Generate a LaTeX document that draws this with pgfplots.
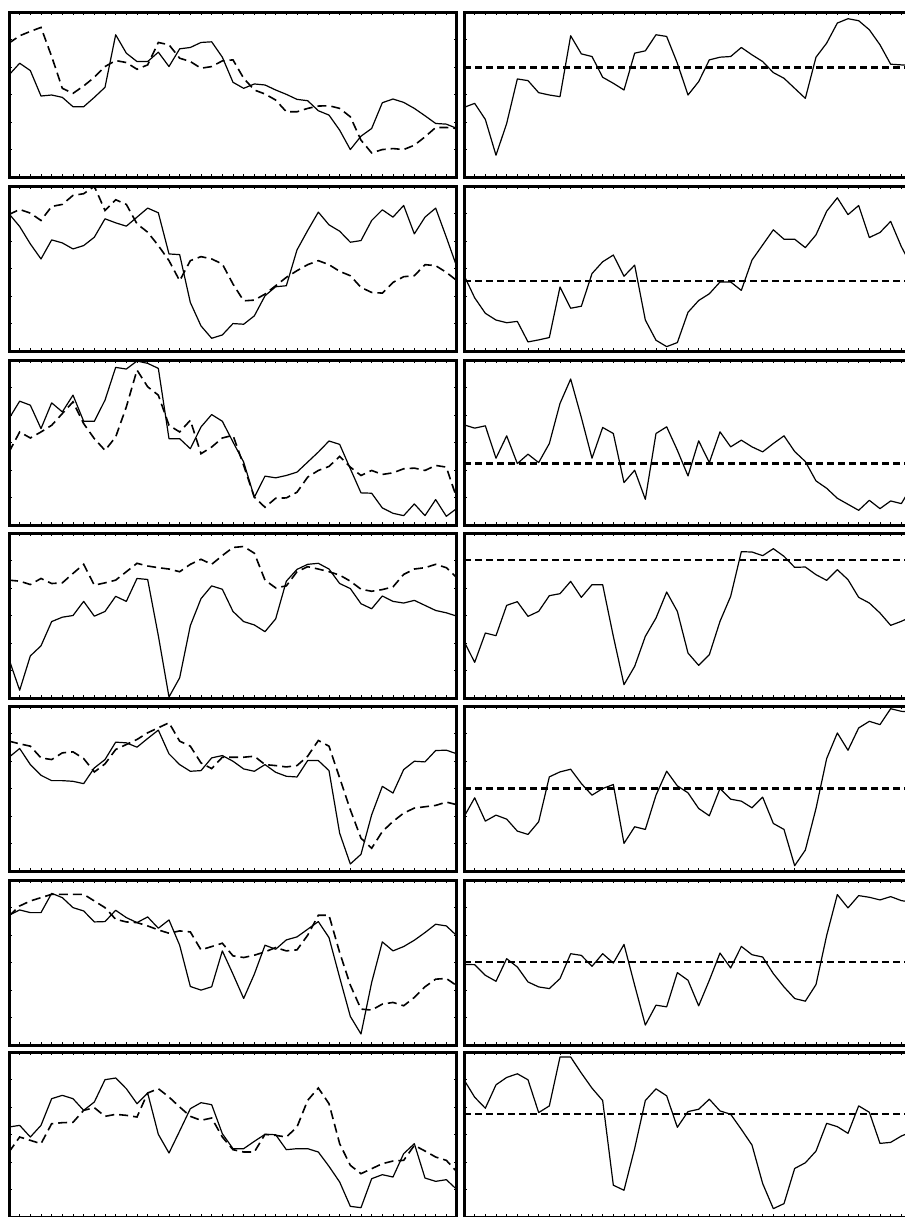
\documentclass[border=0pt]{standalone}
\usepackage{pgfplots}
\usepackage{pgfplotstable}
\pgfplotsset{compat=1.18}
\pgfplotsset{
  panel/.style={
    scale only axis, width=224pt, height=82.5pt,
    xmin=0, xmax=42, y dir=reverse,
    xtick={0,...,42}, xticklabels={}, ytick=\empty,
    tick align=inside, xtick pos=both, major tick length=1.5pt,
    tick style={line width=0.4pt, black},
    axis line style={line width=1.5pt},
    anchor=north west, clip=true,
    after end axis/.code={
      \foreach \k in {1,...,5}{
        \draw[line width=0.4pt] (rel axis cs:0,\k/6) -- ++(1.5pt,0);
        \draw[line width=0.4pt] (rel axis cs:1,\k/6) -- ++(-1.5pt,0);
      }
    },
  },
  solidl/.style={black, line width=0.6pt, line join=round},
  dashl/.style={black, line width=0.8pt, dash pattern=on 4.5pt off 2.5pt},
  hline/.style={black, line width=1.1pt, dash pattern=on 3.5pt off 2pt},
}
% ---------- data (one column per series, index = x) ----------
\pgfplotstableread[row sep=\\]{y\\225\\190\\212\\288\\285\\292\\320\\320\\292\\262\\105\\160\\185\\185\\157\\200\\147\\143\\128\\126\\172\\247\\265\\252\\255\\270\\283\\298\\302\\332\\345\\390\\448\\408\\385\\308\\297\\307\\325\\347\\370\\372\\385\\}\LAs
\pgfplotstableread[row sep=\\]{y\\130\\108\\95\\83\\170\\265\\280\\258\\232\\200\\182\\188\\208\\195\\128\\135\\175\\185\\205\\200\\183\\180\\235\\270\\282\\300\\335\\335\\325\\318\\317\\325\\350\\420\\458\\448\\445\\448\\435\\410\\382\\382\\385\\}\LAd
\pgfplotstableread[row sep=\\]{y\\322\\310\\358\\465\\370\\237\\242\\278\\285\\290\\108\\162\\170\\232\\250\\270\\160\\153\\105\\110\\190\\285\\245\\180\\172\\170\\143\\165\\185\\218\\235\\265\\295\\172\\130\\70\\57\\63\\90\\135\\193\\195\\197\\}\RAs
\pgfplotstableread[row sep=\\]{y\\110\\148\\200\\245\\188\\197\\215\\205\\180\\125\\137\\147\\120\\93\\107\\230\\232\\375\\445\\482\\472\\438\\440\\415\\355\\328\\325\\218\\160\\105\\143\\162\\195\\190\\130\\98\\120\\85\\170\\120\\93\\180\\270\\}\LBs
\pgfplotstableread[row sep=\\]{y\\112\\97\\108\\130\\88\\82\\55\\50\\28\\100\\68\\82\\140\\165\\205\\250\\310\\250\\238\\245\\260\\320\\370\\368\\350\\325\\300\\280\\262\\250\\262\\282\\295\\330\\345\\347\\315\\298\\295\\262\\265\\285\\310\\}\LBd
\pgfplotstableread[row sep=\\]{y\\295\\362\\408\\428\\436\\432\\493\\487\\480\\330\\393\\387\\290\\255\\235\\298\\265\\428\\488\\507\\495\\405\\370\\350\\315\\315\\340\\250\\205\\160\\188\\188\\213\\175\\105\\65\\115\\88\\183\\168\\135\\210\\270\\}\RBs
\pgfplotstableread[row sep=\\]{y\\200\\148\\160\\230\\153\\180\\130\\208\\208\\145\\47\\52\\28\\35\\50\\260\\260\\290\\225\\188\\208\\270\\330\\435\\372\\377\\370\\360\\330\\300\\267\\277\\350\\422\\423\\467\\483\\490\\455\\490\\442\\492\\468\\}\LCs
\pgfplotstableread[row sep=\\]{y\\300\\240\\258\\240\\220\\185\\150\\215\\260\\295\\255\\165\\55\\105\\130\\220\\240\\205\\305\\285\\258\\250\\340\\435\\465\\438\\437\\420\\375\\355\\343\\313\\345\\370\\355\\367\\362\\350\\348\\355\\340\\345\\440\\}\LCd
\pgfplotstableread[row sep=\\]{y\\212\\222\\215\\312\\245\\328\\300\\325\\268\\148\\75\\190\\312\\220\\238\\385\\348\\435\\238\\218\\288\\365\\260\\325\\233\\278\\258\\278\\293\\268\\245\\292\\322\\380\\402\\432\\450\\468\\438\\463\\440\\448\\395\\}\RCs
\pgfplotstableread[row sep=\\]{y\\400\\492\\390\\360\\288\\275\\270\\228\\272\\258\\213\\228\\160\\163\\330\\512\\455\\300\\220\\182\\192\\258\\288\\298\\318\\280\\168\\133\\118\\115\\132\\175\\190\\235\\250\\212\\228\\233\\225\\240\\255\\262\\272\\}\LDs
\pgfplotstableread[row sep=\\]{y\\165\\168\\178\\160\\175\\173\\145\\118\\180\\173\\165\\140\\115\\123\\128\\132\\140\\118\\103\\118\\92\\68\\65\\85\\165\\188\\182\\140\\125\\132\\140\\150\\168\\192\\198\\193\\185\\148\\132\\128\\118\\128\\158\\}\LDd
\pgfplotstableread[row sep=\\]{y\\345\\408\\320\\328\\237\\226\\270\\255\\208\\202\\165\\213\\175\\175\\330\\475\\420\\330\\275\\197\\255\\380\\417\\385\\285\\210\\76\\77\\88\\67\\90\\123\\122\\145\\162\\130\\160\\213\\230\\260\\297\\285\\270\\}\RDs
\pgfplotstableread[row sep=\\]{y\\178\\152\\200\\232\\248\\248\\250\\257\\210\\185\\133\\135\\148\\122\\97\\168\\200\\220\\218\\180\\173\\190\\213\\220\\200\\223\\235\\237\\188\\188\\218\\405\\497\\468\\350\\265\\285\\215\\190\\192\\158\\157\\168\\}\LEs
\pgfplotstableread[row sep=\\]{y\\130\\138\\145\\180\\185\\165\\162\\182\\222\\198\\155\\140\\125\\105\\90\\75\\130\\145\\195\\212\\178\\178\\178\\175\\200\\203\\207\\203\\175\\128\\145\\240\\335\\420\\450\\400\\370\\345\\330\\326\\322\\312\\320\\}\LEd
\pgfplotstableread[row sep=\\]{y\\355\\298\\368\\350\\362\\398\\408\\370\\235\\220\\212\\255\\290\\270\\258\\435\\385\\393\\290\\218\\262\\283\\330\\352\\270\\302\\308\\328\\296\\375\\393\\502\\455\\330\\180\\103\\155\\88\\68\\78\\30\\38\\40\\}\REs
\pgfplotstableread[row sep=\\]{y\\128\\112\\120\\120\\62\\75\\105\\115\\148\\147\\113\\135\\150\\133\\167\\142\\218\\342\\353\\343\\235\\305\\378\\305\\218\\230\\202\\193\\170\\147\\195\\315\\432\\485\\330\\208\\235\\222\\203\\180\\155\\160\\190\\}\LFs
\pgfplotstableread[row sep=\\]{y\\130\\100\\85\\75\\65\\65\\65\\65\\85\\105\\140\\148\\150\\160\\172\\182\\175\\178\\232\\222\\212\\250\\255\\248\\238\\225\\235\\232\\188\\128\\128\\240\\338\\410\\413\\395\\390\\400\\375\\343\\320\\318\\340\\}\LFd
\pgfplotstableread[row sep=\\]{y\\272\\273\\305\\323\\255\\280\\325\\340\\345\\315\\240\\245\\278\\240\\268\\212\\335\\455\\395\\400\\297\\320\\397\\320\\238\\283\\218\\243\\250\\300\\340\\375\\383\\333\\185\\62\\102\\65\\70\\78\\68\\80\\85\\}\RFs
\pgfplotstableread[row sep=\\]{y\\250\\245\\280\\245\\165\\155\\165\\200\\175\\108\\103\\135\\180\\148\\272\\328\\262\\195\\177\\183\\270\\315\\315\\293\\272\\273\\318\\315\\315\\325\\368\\415\\488\\492\\405\\393\\400\\330\\300\\403\\413\\408\\438\\}\LGs
\pgfplotstableread[row sep=\\]{y\\325\\280\\290\\300\\240\\237\\236\\200\\192\\218\\212\\215\\220\\148\\135\\160\\190\\218\\230\\223\\280\\318\\325\\325\\272\\275\\280\\250\\170\\133\\180\\300\\365\\390\\375\\360\\352\\350\\305\\322\\340\\350\\385\\}\LGd
\pgfplotstableread[row sep=\\]{y\\110\\162\\195\\125\\103\\92\\110\\208\\188\\42\\42\\90\\135\\172\\425\\440\\315\\172\\137\\158\\252\\205\\198\\168\\203\\213\\258\\305\\420\\495\\480\\375\\358\\323\\240\\250\\270\\188\\207\\300\\297\\278\\265\\}\RGs

% #1 top (px), #2 ymin, #3 ymax, #4 solid table, #5 dashed table
\newcommand{\Lpanel}[5]{%
\begin{axis}[panel, at={(4.5pt,{-0.5pt*#1})}, ymin=#2, ymax=#3]
\addplot[solidl] table[x expr=\coordindex, y=y] {#4};
\addplot[dashl] table[x expr=\coordindex, y=y] {#5};
\end{axis}}
% #1 top (px), #2 ymin, #3 ymax, #4 solid table, #5 reference level
\newcommand{\Rpanel}[5]{%
\begin{axis}[panel, at={(232pt,{-0.5pt*#1})}, ymin=#2, ymax=#3]
\addplot[solidl] table[x expr=\coordindex, y=y] {#4};
\addplot[hline] coordinates {(0,#5) (42,#5)};
\end{axis}}

\begin{document}
\begin{tikzpicture}
\Lpanel{12}{37}{530}{\LAs}{\LAd}
\Rpanel{12}{37}{530}{\RAs}{203}
\Lpanel{186}{27}{520}{\LBs}{\LBd}
\Rpanel{186}{30}{520}{\RBs}{312}
\Lpanel{360}{25}{518}{\LCs}{\LCd}
\Rpanel{360}{18}{512}{\RCs}{328}
\Lpanel{533}{25}{515}{\LDs}{\LDd}
\Rpanel{533}{20}{515}{\RDs}{102}
\Lpanel{706}{25}{518}{\LEs}{\LEd}
\Rpanel{706}{22}{518}{\REs}{270}
\Lpanel{880}{22}{518}{\LFs}{\LFd}
\Rpanel{880}{18}{515}{\RFs}{265}
\Lpanel{1052}{25}{520}{\LGs}{\LGd}
\Rpanel{1052}{27}{520}{\RGs}{212}
\pgfresetboundingbox
\path[use as bounding box] (0,0) rectangle (452.5pt,-608.5pt);
\end{tikzpicture}
\end{document}
